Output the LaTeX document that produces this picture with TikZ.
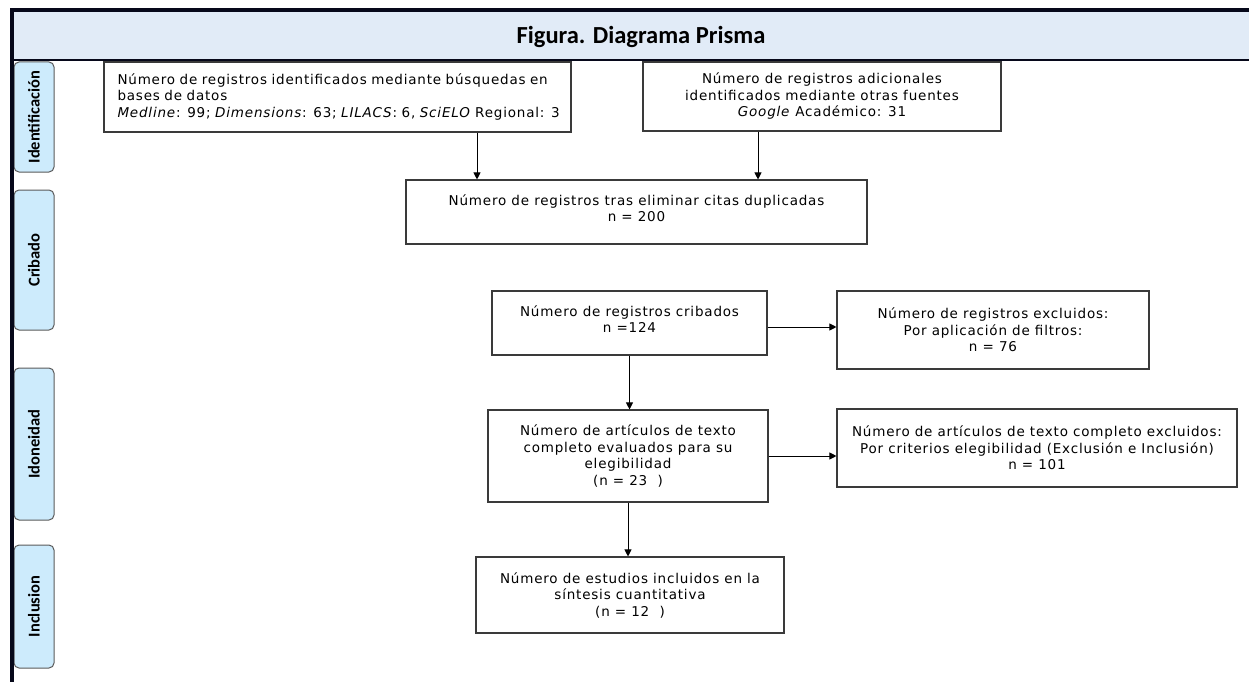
\documentclass[tikz,border=0pt]{standalone}
\usepackage{fontspec}
\setmainfont{DejaVu Sans}[LetterSpace=6]
\newfontfamily\calib{Carlito}
\usetikzlibrary{arrows.meta,calc}
\definecolor{band}{HTML}{E1EBF7}
\definecolor{tabfill}{HTML}{CDEBFC}
\definecolor{frame}{HTML}{06081A}
\definecolor{boxline}{HTML}{3A3A3A}
\definecolor{tabline}{HTML}{5A5A5A}
\begin{document}
\begin{tikzpicture}[x=1pt,y=-1pt,
  box/.style={draw=boxline, line width=1.1pt, fill=white, font=\fontsize{13.5}{16.5}\selectfont, align=center, inner sep=0pt},
  arr/.style={-{Triangle[length=7pt,width=7pt]}, line width=0.9pt, draw=black},
  tabbox/.style={draw=tabline, fill=tabfill, rounded corners=5pt, line width=1pt, rotate=90, inner sep=0pt, minimum height=40pt, font=\calib\bfseries\fontsize{16.5}{18}\selectfont}]
\useasboundingbox (0,0) rectangle (1249,682);
% title band
\fill[band] (14,12) rectangle (1249,60);
\node[font=\calib\bfseries\fontsize{24.5}{28}\selectfont] (title) at (641,37) {Figura. Diagrama Prisma};
% side tabs
\node[tabbox, minimum width=110pt] (t1) at (34,117) {Identificación};
\node[tabbox, minimum width=140pt] (t2) at (34,260) {Cribado};
\node[tabbox, minimum width=152pt] (t3) at (34,444) {Idoneidad};
\node[tabbox, minimum width=123pt] (t4) at (34,606.5) {Inclusion};
% frame
\draw[frame, line width=4pt] (12,682) -- (12,10.5) -- (1249,10.5);
\draw[frame, line width=2pt] (13,60) -- (1249,60);
% boxes
\node[box, align=left, text width=460pt, inner xsep=3.5pt, minimum height=70pt] (b1) at (337.5,97)
  {\hspace*{10pt}\mbox{Número de registros identificados mediante búsquedas en}\\ \hspace*{10pt}bases de datos\\ \hspace*{10pt}\mbox{\textit{Medline}: 99; \textit{Dimensions}: 63; \textit{LILACS}: 6, \textit{SciELO} Regional: 3}};
\node[box, minimum width=358pt, minimum height=69pt] (b2) at (822,96.5)
  {Número de registros adicionales\\ identificados mediante otras fuentes\\ \textit{Google} Académico: 31};
\node[box, minimum width=461pt, minimum height=64pt] (b3) at (636.5,212)
  {Número de registros tras eliminar citas duplicadas\\ n = 200\\[-9pt]};
\node[box, minimum width=275pt, minimum height=64pt] (b4) at (629.5,323)
  {Número de registros cribados\\ n =124\\[-9pt]};
\node[box, minimum width=312pt, minimum height=78pt] (b5) at (993,330)
  {Número de registros excluidos:\\ Por aplicación de filtros:\\ n = 76};
\node[box, minimum width=280pt, minimum height=92pt] (b6) at (628,456)
  {Número de artículos de texto\\ completo evaluados para su\\ elegibilidad\\ (n = 23~~)};
\node[box, minimum width=400pt, minimum height=78pt] (b7) at (1037,448)
  {Número de artículos de texto completo excluidos:\\ Por criterios elegibilidad (Exclusión e Inclusión)\\ n = 101};
\node[box, minimum width=308pt, minimum height=76pt] (b8) at (630,595)
  {Número de estudios incluidos en la\\ síntesis cuantitativa\\ (n = 12~~)};
% connectors
\draw[arr] ([xshift=139.5pt]b1.south) -- ([xshift=139.5pt]b1.south |- b3.north);
\draw[arr] ([xshift=-64pt]b2.south) -- ([xshift=-64pt]b2.south |- b3.north);
\draw[arr] ([yshift=-4pt]b4.east) -- ([yshift=-4pt]b4.east -| b5.west);
\draw[arr] (b4.south) -- (b4.south |- b6.north);
\draw[arr] (b6.east) -- (b6.east -| b7.west);
\draw[arr] (b6.south) -- (b6.south |- b8.north);
\end{tikzpicture}
\end{document}
